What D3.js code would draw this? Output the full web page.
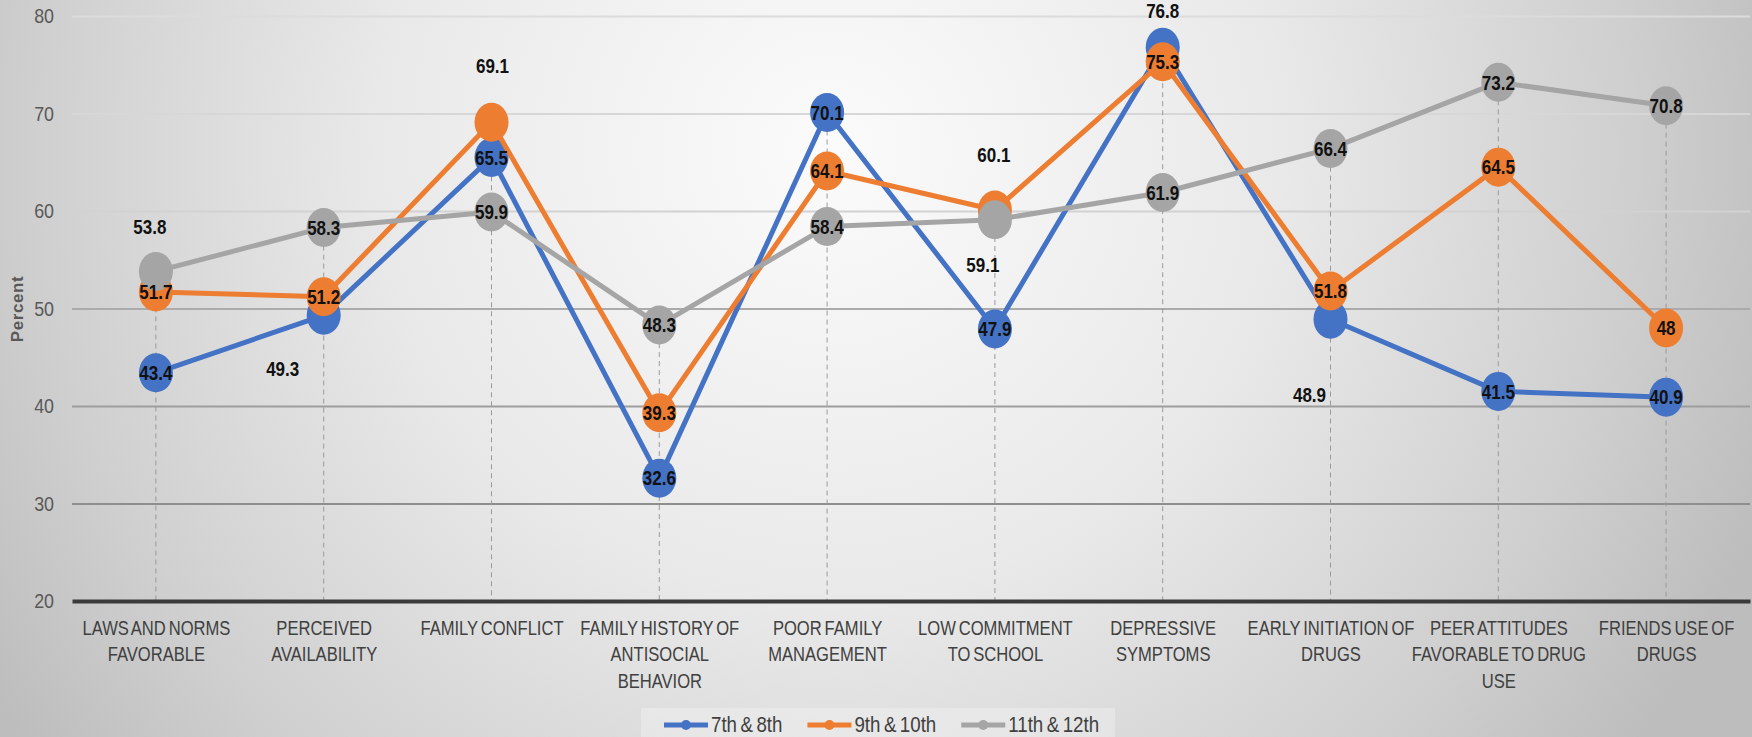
<!DOCTYPE html>
<html>
<head>
<meta charset="utf-8">
<script src="https://cdn.jsdelivr.net/npm/d3@7"></script>
<style>
  body { margin: 0; overflow: hidden; }
  svg { display: block; }
  text { font-family: "Liberation Sans", Arial, sans-serif; }
</style>
</head>
<body>
<div id="chart"></div>
<script>

// ---- data ----
const categories = [
	'LAWS AND NORMS|FAVORABLE',
	'PERCEIVED|AVAILABILITY',
	'FAMILY CONFLICT',
	'FAMILY HISTORY OF|ANTISOCIAL|BEHAVIOR',
	'POOR FAMILY|MANAGEMENT',
	'LOW COMMITMENT|TO SCHOOL',
	'DEPRESSIVE|SYMPTOMS',
	'EARLY INITIATION OF|DRUGS',
	'PEER ATTITUDES|FAVORABLE TO DRUG|USE',
	'FRIENDS USE OF|DRUGS'
];
const grade7and8 = [43.4, 49.3, 65.5, 32.6, 70.1, 47.9, 76.8, 48.9, 41.5, 40.9];
const grade9and10 = [51.7, 51.2, 69.1, 39.3, 64.1, 60.1, 75.3, 51.8, 64.5, 48];
const grade11and12 = [53.8, 58.3, 59.9, 48.3, 58.4, 59.1, 61.9, 66.4, 73.2, 70.8];
const seriesNames = ['7th & 8th', '9th & 10th', '11th & 12th'];
const yTicks = [20, 30, 40, 50, 60, 70, 80];

// labels that were dragged off their markers (series index, category index, offset)
const labelMoves = [
	{s: 2, i: 0, dx: -6, dy: -45},
	{s: 0, i: 1, dx: -41, dy: 53},
	{s: 1, i: 2, dx: 1, dy: -56},
	{s: 2, i: 5, dx: -12, dy: 45},
	{s: 1, i: 5, dx: -1, dy: -55},
	{s: 0, i: 6, dx: 0, dy: -36},
	{s: 0, i: 7, dx: -21, dy: 76}
];

const colors = ['#4472C4', '#ED7D31', '#A5A5A5'];
const squeeze = 0.85;   // condensed look, no narrow font installed

const W = 1752, H = 737;
const margin = {t: 16, r: 2, b: 136, l: 72};

const svg = d3.select('#chart').append('svg')
	.attr('width', W)
	.attr('height', H);

// background
const defs = svg.append('defs');
const bg = defs.append('radialGradient')
	.attr('id', 'bg')
	.attr('gradientUnits', 'userSpaceOnUse')
	.attr('cx', 830).attr('cy', 150).attr('r', 1000);
bg.append('stop').attr('offset', 0).attr('stop-color', '#fbfbfb');
bg.append('stop').attr('offset', 0.45).attr('stop-color', '#e9e9e9');
bg.append('stop').attr('offset', 0.8).attr('stop-color', '#cfcfcf');
bg.append('stop').attr('offset', 1).attr('stop-color', '#bdbdbd');

svg.append('rect')
	.attr('width', W).attr('height', H)
	.attr('fill', 'url(#bg)');

const x = d3.scalePoint()
	.domain(d3.range(categories.length))
	.range([margin.l, W - margin.r])
	.padding(0.5);

const y = d3.scaleLinear()
	.domain([20, 80])
	.range([601, margin.t]);

const gridColor = d3.scaleLinear()
	.domain([30, 50, 60, 80])
	.range(['#8e8e8e', '#ababab', '#d2d2d2', '#dcdcdc']);

// y axis + gridlines
const yAxis = svg.append('g')
	.attr('transform', `translate(${margin.l},0)`)
	.call(d3.axisLeft(y).tickValues(yTicks).tickSize(-(W - margin.r - margin.l)).tickPadding(18));
yAxis.select('.domain').remove();
yAxis.selectAll('.tick line')
	.attr('stroke', d => gridColor(d))
	.attr('stroke-width', 2)
	.style('display', d => d === 20 ? 'none' : null);
yAxis.selectAll('.tick text')
	.attr('x', 0)
	.attr('transform', `translate(-18,0) scale(${squeeze},1)`)
	.attr('fill', '#595959')
	.style('font-size', '21px');

svg.append('text')
	.attr('transform', `translate(23,309) rotate(-90)`)
	.attr('text-anchor', 'middle')
	.style('font-size', '17px')
	.style('font-weight', 'bold')
	.style('letter-spacing', '0.6px')
	.attr('fill', '#595959')
	.text('Percent');

const series = [grade7and8, grade9and10, grade11and12];

// drop lines from the highest point down to the axis
svg.append('g').selectAll('line')
	.data(categories.map((c, i) => d3.max(series, s => s[i])))
	.enter()
	.append('line')
	.attr('x1', (d, i) => x(i)).attr('x2', (d, i) => x(i))
	.attr('y1', d => y(d)).attr('y2', y(20))
	.attr('stroke', '#9a9a9a')
	.attr('stroke-width', 1)
	.attr('stroke-dasharray', '5,4');

// x axis
const xAxis = svg.append('g')
	.attr('transform', `translate(0,${y(20)})`)
	.call(d3.axisBottom(x).tickSize(0).tickSizeOuter(0));
xAxis.select('.domain')
	.attr('stroke', '#3a3a3a')
	.attr('stroke-width', 4);
xAxis.selectAll('.tick text').each(function(d) {
	const t = d3.select(this).text('').attr('y', 0).attr('dy', null)
		.attr('transform', `scale(${squeeze},1)`)
		.attr('fill', '#404040')
		.style('font-size', '19.5px')
		.style('word-spacing', '-2px');
	categories[d].split('|').forEach((line, k) => {
		t.append('tspan').attr('x', 0).attr('y', 34 + k * 26.5).text(line);
	});
});

// lines and markers
const line = d3.line()
	.x((d, i) => x(i))
	.y(d => y(d));

series.forEach((s, si) => {
	svg.append('path')
		.datum(s)
		.attr('d', line)
		.attr('fill', 'none')
		.attr('stroke', colors[si])
		.attr('stroke-width', 5)
		.attr('stroke-linejoin', 'round');

	svg.append('g').selectAll('ellipse')
		.data(s)
		.enter()
		.append('ellipse')
		.attr('cx', (d, i) => x(i))
		.attr('cy', d => y(d))
		.attr('rx', 17)
		.attr('ry', 19.5)
		.attr('fill', colors[si]);
});

// data labels
series.forEach((s, si) => {
	svg.append('g').selectAll('text')
		.data(s)
		.enter()
		.append('text')
		.attr('transform', (d, i) => {
			const m = labelMoves.find(o => o.s === si && o.i === i) || {dx: 0, dy: 0};
			return `translate(${x(i) + m.dx},${y(d) + m.dy}) scale(${squeeze},1)`;
		})
		.attr('dy', '0.36em')
		.attr('text-anchor', 'middle')
		.style('font-size', '20px')
		.style('font-weight', 'bold')
		.attr('fill', '#111')
		.text(d => d);
});

// legend
const legend = svg.append('g');
legend.append('rect')
	.attr('x', 641).attr('y', 708)
	.attr('width', 474).attr('height', 40)
	.attr('fill', 'rgba(255,255,255,0.28)');

let lx = 664;
seriesNames.forEach((name, si) => {
	const g = legend.append('g').attr('transform', `translate(${lx},725)`);
	g.append('line')
		.attr('x1', 0).attr('x2', 44)
		.attr('stroke', colors[si])
		.attr('stroke-width', 5);
	g.append('circle')
		.attr('cx', 22).attr('r', 5)
		.attr('fill', colors[si]);
	const t = g.append('text')
		.attr('transform', `translate(47,0) scale(${squeeze},1)`)
		.attr('dy', '0.34em')
		.attr('fill', '#404040')
		.style('font-size', '22px')
		.style('word-spacing', '-2px')
		.text(name);
	lx += 47 + t.node().getComputedTextLength() * squeeze + 25;
});

</script>
</body>
</html>
